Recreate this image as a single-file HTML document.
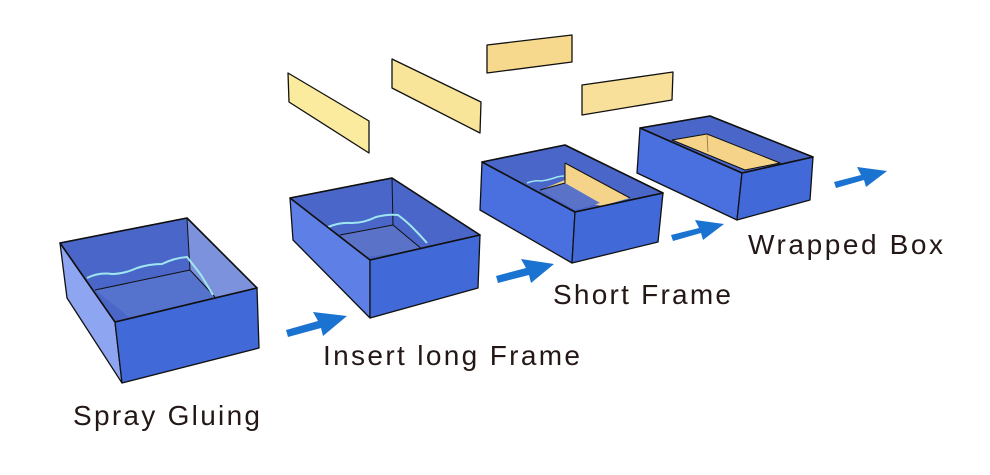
<!DOCTYPE html>
<html><head><style>body{margin:0;background:#fff}svg{display:block}text{font-family:"Liberation Sans",sans-serif;font-size:28px;fill:#231815}</style></head><body>
<svg width="990" height="475" viewBox="0 0 990 475" stroke="#111" stroke-width="1.3" stroke-linejoin="round">
<g fill="#f8e59a"><polygon points="288,73 369,121 369,153 289,102" fill="#faeb9e"/><polygon points="392,59 481,102 480,133 392,88"/><polygon points="487,45 572,35 572,62 487,73" fill="#f7d98e"/><polygon points="582,85 673,72 672,100 582,115" fill="#f8e09a"/></g>
<polygon points="60,243 187,218 257,288 115,322" fill="#4a66c8"/>
<polygon points="187,218 257,288 215,297 190,270" fill="#7d92dc" stroke="none"/>
<polygon points="95,290 190,270 215,297 130,318" fill="#5572cc" stroke="none"/>
<polyline points="95,290 190,270 215,297" fill="none" stroke-width="1"/>
<line x1="187" y1="218" x2="190" y2="270" stroke-width="1"/>
<path d="M87,278 q12,-6 25,-4 q12,0 25,-6 q12,-4 25,-4 q12,-6 25,-7 q8,10 14,18 q6,10 12,20" fill="none" stroke="#9fe6f0" stroke-width="2"/>
<polygon points="60,243 115,322 122,383 67,298" fill="#8ea5f2"/>
<polygon points="115,322 257,288 259,348 122,383" fill="#4169d8"/>
<polygon points="60,243 187,218 257,288 115,322" fill="none" stroke-width="1.6"/>
<polygon points="290,198 392,178 480,235 370,260" fill="#4a66c8"/>
<polygon points="340,235 393,225 423,250 365,257" fill="#5a73c8" stroke="none"/>
<polyline points="340,235 393,225 423,250" fill="none" stroke-width="1"/>
<line x1="392" y1="178" x2="393" y2="225" stroke-width="1"/>
<path d="M328,227 q12,-5 24,-4 q12,0 24,-6 q12,-3 22,-2 q8,6 14,12 q8,8 15,16" fill="none" stroke="#9fe6f0" stroke-width="2"/>
<polygon points="290,198 370,260 370,318 293,240" fill="#5e80e6"/>
<polygon points="370,260 480,235 478,288 370,318" fill="#4169d8"/>
<polygon points="290,198 392,178 480,235 370,260" fill="none" stroke-width="1.6"/>
<polygon points="482,162 565,145 663,193 575,212" fill="#4a66c8"/>
<polygon points="565,163 630,198 602,206 560,196 540,190 565,180" fill="#f5d48a" stroke="none"/>
<polygon points="540,190 565,183 600,203 575,210" fill="#5a73c8" stroke="none"/>
<polyline points="540,190 565,183 565,163" fill="none" stroke-width="1"/>
<polyline points="565,163 630,198" fill="none" stroke-width="1"/>
<path d="M527,183 q8,-3 14,-2 q8,-1 16,-4 q4,-1 7,-1" fill="none" stroke="#9fe6f0" stroke-width="1.5"/>
<polygon points="482,162 575,212 572,263 480,210" fill="#4a70e0"/>
<polygon points="575,212 663,193 658,242 572,263" fill="#4169d8"/>
<polygon points="482,162 565,145 663,193 575,212" fill="none" stroke-width="1.6"/>
<polygon points="640,128 710,116 813,157 742,173" fill="#4a66c8"/>
<polygon points="672,140 707,134 780,163 745,170" fill="#f5d48a" stroke-width="1"/>
<line x1="707" y1="134" x2="708" y2="152" stroke-width="0.8" stroke="#8a7040"/>
<polygon points="640,128 742,173 737,220 637,173" fill="#4a70e0"/>
<polygon points="742,173 813,157 810,200 737,220" fill="#4169d8"/>
<polygon points="640,128 710,116 813,157 742,173" fill="none" stroke-width="1.6"/>
<g fill="#1a73d0" stroke="none">
<path d="M286,330 L318,321 L313,312 L347,316 L323,336 L321,328 L288,337Z"/>
<path d="M496,276 L526,268 L521,259 L554,264 L531,283 L529,275 L498,283Z"/>
<path d="M671,235 L699,228 L695,220 L724,224 L703,240 L701,233 L673,241Z"/>
<path d="M834,182 L861,175 L857,167 L887,171 L866,187 L864,180 L836,188Z"/>
</g>
<g stroke="none">
<text x="73" y="425" textLength="187">Spray Gluing</text>
<text x="323" y="365" textLength="257">Insert long Frame</text>
<text x="553" y="304" textLength="178">Short Frame</text>
<text x="748" y="254" textLength="195">Wrapped Box</text>
</g>
</svg>
</body></html>
